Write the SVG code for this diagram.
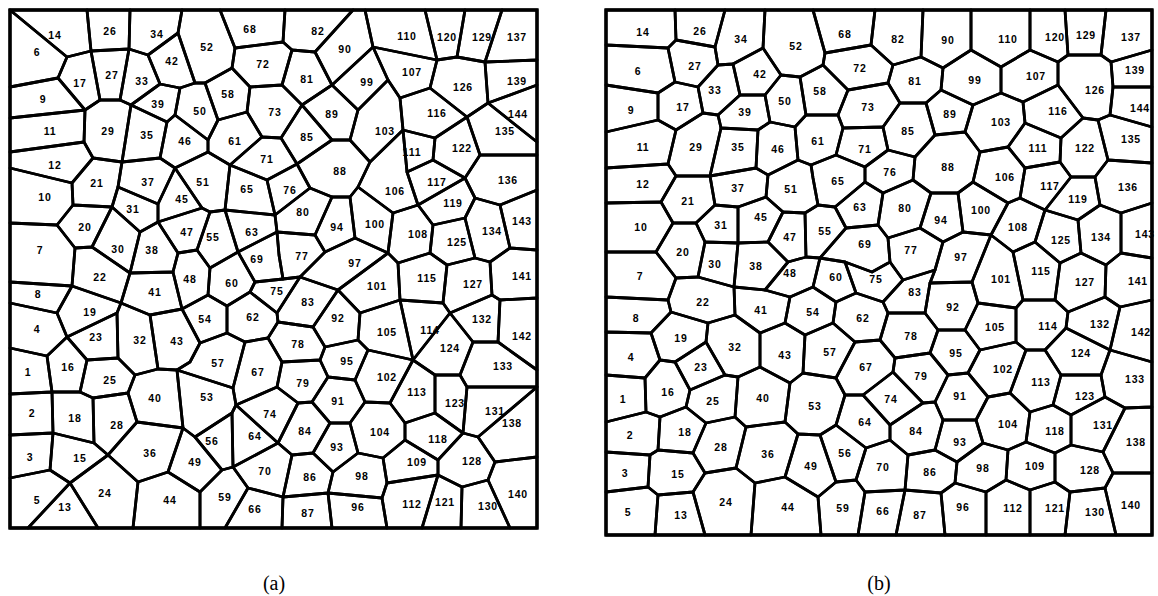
<svg xmlns="http://www.w3.org/2000/svg" width="1158" height="596" viewBox="0 0 1158 596">
<style>
.c polygon{fill:none;stroke:#000;stroke-width:2.8;stroke-linejoin:round}
.c text{font-family:"Liberation Sans",Arial,sans-serif;font-weight:bold;font-size:10.5px;letter-spacing:0.8px;text-anchor:middle;fill:#000}
.frame{fill:none;stroke:#000;stroke-width:3.4}
.cap{font-family:"Liberation Serif","Times New Roman",serif;font-size:20px;text-anchor:middle;fill:#000}
</style>
<rect width="1158" height="596" fill="#fff"/>
<g id="panel-a" class="c">
<g id="a1"><polygon points="10,348 47,356 52,392 10,394"/><text x="28" y="376">1</text></g>
<g id="a2"><polygon points="10,394 52,392 53,433 10,435"/><text x="32" y="417">2</text></g>
<g id="a3"><polygon points="10,435 53,433 50,470 10,478"/><text x="30" y="461">3</text></g>
<g id="a4"><polygon points="10,303 57,313 67,337 47,356 10,348"/><text x="37" y="333">4</text></g>
<g id="a5"><polygon points="10,478 50,470 70,483 28,528 10,528"/><text x="37" y="504">5</text></g>
<g id="a6"><polygon points="10,10 67,57 58,78 10,87"/><text x="37" y="56">6</text></g>
<g id="a7"><polygon points="10,223 57,225 75,248 72,286 10,282"/><text x="40" y="254">7</text></g>
<g id="a8"><polygon points="10,282 72,286 57,313 10,303"/><text x="38" y="298">8</text></g>
<g id="a9"><polygon points="10,87 58,78 85,110 10,118"/><text x="43" y="103">9</text></g>
<g id="a10"><polygon points="10,168 72,183 73,205 57,225 10,223"/><text x="45" y="201">10</text></g>
<g id="a11"><polygon points="10,118 85,110 84,142 10,152"/><text x="50" y="135">11</text></g>
<g id="a12"><polygon points="10,152 84,142 93,158 72,183 10,168"/><text x="55" y="169">12</text></g>
<g id="a13"><polygon points="70,483 98,528 28,528"/><text x="65" y="511">13</text></g>
<g id="a14"><polygon points="10,10 87,10 91,51 67,57"/><text x="55" y="39">14</text></g>
<g id="a15"><polygon points="53,433 94,443 108,455 70,483 50,470"/><text x="80" y="462">15</text></g>
<g id="a16"><polygon points="67,337 87,360 80,392 52,392 47,356"/><text x="68" y="371">16</text></g>
<g id="a17"><polygon points="67,57 91,51 100,100 85,110 58,78"/><text x="80" y="87">17</text></g>
<g id="a18"><polygon points="52,392 80,392 93,398 94,443 53,433"/><text x="75" y="422">18</text></g>
<g id="a19"><polygon points="72,286 121,303 117,313 67,337 57,313"/><text x="90" y="316">19</text></g>
<g id="a20"><polygon points="73,205 112,207 92,247 75,248 57,225"/><text x="85" y="231">20</text></g>
<g id="a21"><polygon points="93,158 122,162 118,187 112,207 73,205 72,183"/><text x="97" y="187">21</text></g>
<g id="a22"><polygon points="75,248 92,247 130,273 121,303 72,286"/><text x="100" y="281">22</text></g>
<g id="a23"><polygon points="117,313 118,358 87,360 67,337"/><text x="96" y="341">23</text></g>
<g id="a24"><polygon points="70,483 108,455 138,482 133,528 98,528"/><text x="105" y="497">24</text></g>
<g id="a25"><polygon points="87,360 118,358 135,375 128,393 93,398 80,392"/><text x="110" y="384">25</text></g>
<g id="a26"><polygon points="87,10 130,10 129,49 91,51"/><text x="110" y="35">26</text></g>
<g id="a27"><polygon points="91,51 129,49 120,100 100,100"/><text x="112" y="79">27</text></g>
<g id="a28"><polygon points="93,398 128,393 137,422 108,455 94,443"/><text x="117" y="429">28</text></g>
<g id="a29"><polygon points="100,100 120,100 131,105 122,162 93,158 84,142 85,110"/><text x="108" y="135">29</text></g>
<g id="a30"><polygon points="112,207 140,232 130,273 92,247"/><text x="118" y="253">30</text></g>
<g id="a31"><polygon points="118,187 158,204 158,222 140,232 112,207"/><text x="133" y="213">31</text></g>
<g id="a32"><polygon points="121,303 150,315 158,369 135,375 118,358 117,313"/><text x="140" y="344">32</text></g>
<g id="a33"><polygon points="129,49 148,55 160,84 131,105 120,100"/><text x="142" y="85">33</text></g>
<g id="a34"><polygon points="130,10 182,10 178,33 148,55 129,49"/><text x="157" y="38">34</text></g>
<g id="a35"><polygon points="131,105 167,122 160,158 122,162"/><text x="147" y="139">35</text></g>
<g id="a36"><polygon points="108,455 137,422 183,428 168,472 138,482"/><text x="150" y="457">36</text></g>
<g id="a37"><polygon points="122,162 160,158 175,168 158,204 118,187"/><text x="148" y="186">37</text></g>
<g id="a38"><polygon points="140,232 158,222 178,253 173,272 130,273"/><text x="152" y="254">38</text></g>
<g id="a39"><polygon points="160,84 180,88 175,115 167,122 131,105"/><text x="158" y="108">39</text></g>
<g id="a40"><polygon points="135,375 158,369 177,370 183,428 137,422 128,393"/><text x="155" y="402">40</text></g>
<g id="a41"><polygon points="130,273 173,272 182,309 150,315 121,303"/><text x="155" y="296">41</text></g>
<g id="a42"><polygon points="148,55 178,33 195,83 180,88 160,84"/><text x="172" y="65">42</text></g>
<g id="a43"><polygon points="150,315 182,309 200,343 190,362 177,370 158,369"/><text x="177" y="345">43</text></g>
<g id="a44"><polygon points="138,482 168,472 200,492 200,528 133,528"/><text x="170" y="504">44</text></g>
<g id="a45"><polygon points="175,168 202,208 158,222 158,204"/><text x="182" y="203">45</text></g>
<g id="a46"><polygon points="175,115 208,140 208,152 175,168 160,158 167,122"/><text x="185" y="145">46</text></g>
<g id="a47"><polygon points="158,222 202,208 210,212 197,250 178,253"/><text x="187" y="236">47</text></g>
<g id="a48"><polygon points="173,272 178,253 197,250 210,268 208,295 182,309"/><text x="190" y="283">48</text></g>
<g id="a49"><polygon points="168,472 183,428 195,437 222,470 200,492"/><text x="195" y="466">49</text></g>
<g id="a50"><polygon points="195,83 205,83 218,120 208,140 175,115 180,88"/><text x="200" y="115">50</text></g>
<g id="a51"><polygon points="175,168 208,152 230,165 225,210 210,212 202,208"/><text x="203" y="186">51</text></g>
<g id="a52"><polygon points="182,10 220,10 235,48 232,68 205,83 195,83 178,33"/><text x="207" y="51">52</text></g>
<g id="a53"><polygon points="177,370 233,388 236,405 232,413 195,437 183,428"/><text x="207" y="401">53</text></g>
<g id="a54"><polygon points="182,309 208,295 227,306 227,333 200,343"/><text x="205" y="323">54</text></g>
<g id="a55"><polygon points="210,212 225,210 238,252 210,268 197,250"/><text x="213" y="241">55</text></g>
<g id="a56"><polygon points="195,437 232,413 233,467 222,470"/><text x="212" y="445">56</text></g>
<g id="a57"><polygon points="200,343 227,333 245,342 233,388 177,370 190,362"/><text x="218" y="367">57</text></g>
<g id="a58"><polygon points="205,83 232,68 250,87 247,112 218,120"/><text x="228" y="98">58</text></g>
<g id="a59"><polygon points="200,492 222,470 233,467 248,488 225,528 200,528"/><text x="225" y="501">59</text></g>
<g id="a60"><polygon points="210,268 238,252 255,282 250,292 227,306 208,295"/><text x="232" y="287">60</text></g>
<g id="a61"><polygon points="218,120 247,112 262,137 230,165 208,152 208,140"/><text x="235" y="145">61</text></g>
<g id="a62"><polygon points="227,306 250,292 277,313 278,322 268,338 245,342 227,333"/><text x="253" y="321">62</text></g>
<g id="a63"><polygon points="225,210 275,215 277,232 238,252"/><text x="252" y="236">63</text></g>
<g id="a64"><polygon points="236,405 278,443 233,467 232,413"/><text x="255" y="440">64</text></g>
<g id="a65"><polygon points="230,165 267,180 275,215 225,210"/><text x="247" y="193">65</text></g>
<g id="a66"><polygon points="248,488 283,497 282,528 225,528"/><text x="255" y="513">66</text></g>
<g id="a67"><polygon points="245,342 268,338 282,362 277,387 236,405 233,388"/><text x="258" y="376">67</text></g>
<g id="a68"><polygon points="220,10 285,10 283,42 235,48"/><text x="250" y="33">68</text></g>
<g id="a69"><polygon points="238,252 277,232 279,255 283,279 255,282"/><text x="257" y="263">69</text></g>
<g id="a70"><polygon points="278,443 292,455 283,497 248,488 233,467"/><text x="265" y="475">70</text></g>
<g id="a71"><polygon points="262,137 281,138 297,164 267,180 230,165"/><text x="267" y="163">71</text></g>
<g id="a72"><polygon points="235,48 283,42 292,50 282,85 250,87 232,68"/><text x="263" y="68">72</text></g>
<g id="a73"><polygon points="250,87 282,85 302,105 281,138 262,137 247,112"/><text x="275" y="116">73</text></g>
<g id="a74"><polygon points="236,405 277,387 298,403 278,443"/><text x="270" y="418">74</text></g>
<g id="a75"><polygon points="255,282 283,279 300,277 277,313 250,292"/><text x="277" y="295">75</text></g>
<g id="a76"><polygon points="297,164 310,188 275,215 267,180"/><text x="290" y="194">76</text></g>
<g id="a77"><polygon points="277,232 315,235 325,252 300,277 283,279 279,255"/><text x="302" y="260">77</text></g>
<g id="a78"><polygon points="278,322 313,327 325,347 320,360 282,362 268,338"/><text x="298" y="348">78</text></g>
<g id="a79"><polygon points="282,362 320,360 328,377 312,402 298,403 277,387"/><text x="303" y="387">79</text></g>
<g id="a80"><polygon points="310,188 332,197 315,235 277,232 275,215"/><text x="303" y="216">80</text></g>
<g id="a81"><polygon points="292,50 315,52 332,85 302,105 282,85"/><text x="307" y="83">81</text></g>
<g id="a82"><polygon points="285,10 353,10 315,52 292,50 283,42"/><text x="318" y="35">82</text></g>
<g id="a83"><polygon points="300,277 338,290 313,327 278,322 277,313"/><text x="308" y="306">83</text></g>
<g id="a84"><polygon points="298,403 312,402 330,423 313,453 292,455 278,443"/><text x="305" y="435">84</text></g>
<g id="a85"><polygon points="302,105 332,140 297,164 281,138"/><text x="307" y="141">85</text></g>
<g id="a86"><polygon points="292,455 313,453 333,472 328,493 283,497"/><text x="310" y="481">86</text></g>
<g id="a87"><polygon points="283,497 328,493 332,528 282,528"/><text x="308" y="517">87</text></g>
<g id="a88"><polygon points="332,140 350,140 370,162 358,187 350,197 332,197 310,188 297,164"/><text x="340" y="175">88</text></g>
<g id="a89"><polygon points="332,85 358,110 350,140 332,140 302,105"/><text x="332" y="118">89</text></g>
<g id="a90"><polygon points="353,10 365,10 373,47 332,85 315,52"/><text x="345" y="53">90</text></g>
<g id="a91"><polygon points="328,377 355,380 365,402 350,423 330,423 312,402"/><text x="338" y="405">91</text></g>
<g id="a92"><polygon points="338,290 360,313 358,340 325,347 313,327"/><text x="338" y="322">92</text></g>
<g id="a93"><polygon points="330,423 350,423 358,453 333,472 313,453"/><text x="337" y="451">93</text></g>
<g id="a94"><polygon points="332,197 350,197 355,238 325,252 315,235"/><text x="337" y="231">94</text></g>
<g id="a95"><polygon points="325,347 358,340 368,350 355,380 328,377 320,360"/><text x="347" y="365">95</text></g>
<g id="a96"><polygon points="328,493 382,498 387,528 332,528"/><text x="358" y="511">96</text></g>
<g id="a97"><polygon points="325,252 355,238 388,253 338,290 300,277"/><text x="355" y="267">97</text></g>
<g id="a98"><polygon points="333,472 358,453 383,458 387,483 382,498 328,493"/><text x="362" y="480">98</text></g>
<g id="a99"><polygon points="332,85 373,47 388,80 358,110"/><text x="367" y="86">99</text></g>
<g id="a100"><polygon points="350,197 358,187 393,213 388,253 355,238"/><text x="375" y="228">100</text></g>
<g id="a101"><polygon points="338,290 388,253 398,263 400,300 360,313"/><text x="377" y="290">101</text></g>
<g id="a102"><polygon points="368,350 413,360 390,403 365,402 355,380"/><text x="387" y="381">102</text></g>
<g id="a103"><polygon points="358,110 388,80 400,98 403,130 370,162 350,140"/><text x="385" y="135">103</text></g>
<g id="a104"><polygon points="350,423 365,402 390,403 405,423 405,440 383,458 358,453"/><text x="380" y="436">104</text></g>
<g id="a105"><polygon points="360,313 400,300 413,360 368,350 358,340"/><text x="387" y="336">105</text></g>
<g id="a106"><polygon points="370,162 403,130 407,172 418,205 393,213 358,187"/><text x="395" y="195">106</text></g>
<g id="a107"><polygon points="373,47 437,60 430,88 400,98 388,80"/><text x="412" y="76">107</text></g>
<g id="a108"><polygon points="393,213 418,205 433,225 430,253 398,263 388,253"/><text x="418" y="238">108</text></g>
<g id="a109"><polygon points="383,458 405,440 438,460 438,475 387,483"/><text x="417" y="466">109</text></g>
<g id="a110"><polygon points="365,10 425,10 437,60 373,47"/><text x="407" y="40">110</text></g>
<g id="a111"><polygon points="403,130 435,138 433,160 407,172"/><text x="412" y="156">111</text></g>
<g id="a112"><polygon points="387,483 438,475 422,528 387,528 382,498"/><text x="412" y="508">112</text></g>
<g id="a113"><polygon points="413,360 435,375 435,413 405,423 390,403"/><text x="417" y="396">113</text></g>
<g id="a114"><polygon points="400,300 443,303 450,313 413,360"/><text x="430" y="334">114</text></g>
<g id="a115"><polygon points="398,263 430,253 447,265 443,303 400,300"/><text x="427" y="282">115</text></g>
<g id="a116"><polygon points="400,98 430,88 467,117 435,138 403,130"/><text x="437" y="117">116</text></g>
<g id="a117"><polygon points="407,172 433,160 465,178 418,205"/><text x="437" y="186">117</text></g>
<g id="a118"><polygon points="405,423 435,413 463,433 438,460 405,440"/><text x="438" y="443">118</text></g>
<g id="a119"><polygon points="418,205 465,178 475,198 465,218 433,225"/><text x="453" y="207">119</text></g>
<g id="a120"><polygon points="425,10 465,10 457,57 437,60"/><text x="447" y="41">120</text></g>
<g id="a121"><polygon points="438,475 462,487 461,528 422,528"/><text x="445" y="506">121</text></g>
<g id="a122"><polygon points="467,117 480,155 465,178 433,160 435,138"/><text x="462" y="152">122</text></g>
<g id="a123"><polygon points="435,375 460,375 467,387 463,433 435,413"/><text x="455" y="407">123</text></g>
<g id="a124"><polygon points="413,360 450,313 473,342 460,375 435,375"/><text x="450" y="352">124</text></g>
<g id="a125"><polygon points="433,225 465,218 475,258 447,265 430,253"/><text x="457" y="246">125</text></g>
<g id="a126"><polygon points="437,60 457,57 485,62 488,103 467,117 430,88"/><text x="463" y="91">126</text></g>
<g id="a127"><polygon points="447,265 475,258 490,262 492,295 450,313 443,303"/><text x="473" y="288">127</text></g>
<g id="a128"><polygon points="438,460 463,433 478,437 495,462 488,480 462,487 438,475"/><text x="472" y="465">128</text></g>
<g id="a129"><polygon points="465,10 502,10 485,62 457,57"/><text x="482" y="41">129</text></g>
<g id="a130"><polygon points="462,487 488,480 510,528 461,528"/><text x="488" y="510">130</text></g>
<g id="a131"><polygon points="467,387 537,387 478,437 463,433"/><text x="495" y="415">131</text></g>
<g id="a132"><polygon points="450,313 492,295 500,300 498,342 473,342"/><text x="482" y="323">132</text></g>
<g id="a133"><polygon points="473,342 498,342 537,370 537,387 467,387 460,375"/><text x="503" y="370">133</text></g>
<g id="a134"><polygon points="465,218 475,198 500,205 510,248 490,262 475,258"/><text x="492" y="235">134</text></g>
<g id="a135"><polygon points="467,117 488,103 537,142 537,155 480,155"/><text x="505" y="135">135</text></g>
<g id="a136"><polygon points="480,155 537,155 537,190 500,205 475,198 465,178"/><text x="508" y="184">136</text></g>
<g id="a137"><polygon points="502,10 537,10 537,60 485,62"/><text x="517" y="41">137</text></g>
<g id="a138"><polygon points="478,437 537,387 537,457 495,462"/><text x="512" y="427">138</text></g>
<g id="a139"><polygon points="485,62 537,60 537,85 488,103"/><text x="517" y="85">139</text></g>
<g id="a140"><polygon points="495,462 537,457 537,528 510,528 488,480"/><text x="518" y="498">140</text></g>
<g id="a141"><polygon points="490,262 510,248 537,250 537,298 500,300 492,295"/><text x="522" y="280">141</text></g>
<g id="a142"><polygon points="500,300 537,298 537,370 498,342"/><text x="522" y="340">142</text></g>
<g id="a143"><polygon points="500,205 537,190 537,250 510,248"/><text x="522" y="225">143</text></g>
<g id="a144"><polygon points="488,103 537,85 537,142"/><text x="518" y="118">144</text></g>
<rect class="frame" x="10" y="10" width="527" height="518"/>
</g>
<g id="panel-b" class="c">
<g id="b1"><polygon points="606,375 645,378 646,412 606,422"/><text x="623" y="403">1</text></g>
<g id="b2"><polygon points="606,422 646,412 660,417 658,450 650,455 606,452"/><text x="630" y="439">2</text></g>
<g id="b3"><polygon points="606,452 650,455 648,487 606,492"/><text x="625" y="477">3</text></g>
<g id="b4"><polygon points="606,332 651,333 660,360 645,378 606,375"/><text x="631" y="361">4</text></g>
<g id="b5"><polygon points="606,492 648,487 658,495 655,535 606,535"/><text x="628" y="516">5</text></g>
<g id="b6"><polygon points="606,45 668,48 675,82 658,93 606,85"/><text x="638" y="75">6</text></g>
<g id="b7"><polygon points="606,252 656,252 676,278 668,300 606,297"/><text x="640" y="280">7</text></g>
<g id="b8"><polygon points="606,297 668,300 671,312 651,333 606,332"/><text x="636" y="322">8</text></g>
<g id="b9"><polygon points="606,85 658,93 658,120 606,132"/><text x="631" y="114">9</text></g>
<g id="b10"><polygon points="606,203 661,202 673,223 656,252 606,252"/><text x="641" y="231">10</text></g>
<g id="b11"><polygon points="606,132 658,120 676,130 668,164 606,168"/><text x="643" y="151">11</text></g>
<g id="b12"><polygon points="606,168 668,164 676,176 661,202 606,203"/><text x="643" y="188">12</text></g>
<g id="b13"><polygon points="658,495 693,492 705,535 655,535"/><text x="681" y="519">13</text></g>
<g id="b14"><polygon points="606,10 675,10 676,40 668,48 606,45"/><text x="643" y="36">14</text></g>
<g id="b15"><polygon points="650,455 658,450 693,453 705,473 693,492 658,495 648,487"/><text x="678" y="478">15</text></g>
<g id="b16"><polygon points="660,360 675,362 690,390 686,407 660,417 646,412 645,378"/><text x="668" y="396">16</text></g>
<g id="b17"><polygon points="658,93 675,82 698,87 703,113 676,130 658,120"/><text x="683" y="111">17</text></g>
<g id="b18"><polygon points="660,417 686,407 706,423 693,453 658,450"/><text x="685" y="436">18</text></g>
<g id="b19"><polygon points="671,312 708,323 706,342 675,362 660,360 651,333"/><text x="681" y="342">19</text></g>
<g id="b20"><polygon points="673,223 696,223 705,242 698,277 676,278 656,252"/><text x="683" y="256">20</text></g>
<g id="b21"><polygon points="676,176 710,176 715,205 696,223 673,223 661,202"/><text x="688" y="205">21</text></g>
<g id="b22"><polygon points="676,278 698,277 734,287 735,315 708,323 671,312 668,300"/><text x="703" y="306">22</text></g>
<g id="b23"><polygon points="706,342 725,375 690,390 675,362"/><text x="701" y="371">23</text></g>
<g id="b24"><polygon points="693,492 705,473 736,468 755,483 751,535 705,535"/><text x="726" y="506">24</text></g>
<g id="b25"><polygon points="690,390 725,375 738,377 735,417 706,423 686,407"/><text x="713" y="405">25</text></g>
<g id="b26"><polygon points="675,10 725,10 715,47 676,40"/><text x="700" y="35">26</text></g>
<g id="b27"><polygon points="676,40 715,47 718,65 698,87 675,82 668,48"/><text x="695" y="70">27</text></g>
<g id="b28"><polygon points="706,423 735,417 746,427 736,468 705,473 693,453"/><text x="721" y="451">28</text></g>
<g id="b29"><polygon points="676,130 703,113 718,115 721,128 710,176 676,176 668,164"/><text x="696" y="151">29</text></g>
<g id="b30"><polygon points="705,242 738,243 734,287 698,277"/><text x="715" y="268">30</text></g>
<g id="b31"><polygon points="715,205 738,207 738,243 705,242 696,223"/><text x="721" y="229">31</text></g>
<g id="b32"><polygon points="708,323 735,315 760,333 760,367 738,377 725,375 706,342"/><text x="735" y="351">32</text></g>
<g id="b33"><polygon points="718,65 733,64 740,95 718,115 703,113 698,87"/><text x="715" y="94">33</text></g>
<g id="b34"><polygon points="725,10 765,10 763,48 733,64 718,65 715,47"/><text x="741" y="43">34</text></g>
<g id="b35"><polygon points="721,128 758,130 756,168 710,176"/><text x="738" y="151">35</text></g>
<g id="b36"><polygon points="746,427 785,422 798,434 785,477 755,483 736,468"/><text x="768" y="458">36</text></g>
<g id="b37"><polygon points="710,176 756,168 768,175 766,197 738,207 715,205"/><text x="738" y="192">37</text></g>
<g id="b38"><polygon points="738,243 768,242 788,262 765,290 734,287"/><text x="756" y="270">38</text></g>
<g id="b39"><polygon points="740,95 765,95 770,122 758,130 721,128 718,115"/><text x="745" y="116">39</text></g>
<g id="b40"><polygon points="738,377 760,367 790,383 785,422 746,427 735,417"/><text x="763" y="402">40</text></g>
<g id="b41"><polygon points="734,287 765,290 790,297 785,323 760,333 735,315"/><text x="761" y="314">41</text></g>
<g id="b42"><polygon points="733,64 763,48 781,75 765,95 740,95"/><text x="760" y="78">42</text></g>
<g id="b43"><polygon points="760,333 785,323 805,335 803,373 790,383 760,367"/><text x="785" y="359">43</text></g>
<g id="b44"><polygon points="755,483 785,477 818,497 821,535 751,535"/><text x="788" y="511">44</text></g>
<g id="b45"><polygon points="738,207 766,197 783,212 768,242 738,243"/><text x="761" y="221">45</text></g>
<g id="b46"><polygon points="770,122 795,127 798,160 768,175 756,168 758,130"/><text x="778" y="153">46</text></g>
<g id="b47"><polygon points="783,212 805,213 806,257 788,262 768,242"/><text x="790" y="241">47</text></g>
<g id="b48"><polygon points="788,262 806,257 820,258 813,287 790,297 765,290"/><text x="790" y="277">48</text></g>
<g id="b49"><polygon points="785,477 798,434 820,435 836,482 818,497"/><text x="811" y="470">49</text></g>
<g id="b50"><polygon points="781,75 800,77 806,115 795,127 770,122 765,95"/><text x="785" y="105">50</text></g>
<g id="b51"><polygon points="768,175 798,160 811,165 813,178 818,205 805,213 783,212 766,197"/><text x="791" y="193">51</text></g>
<g id="b52"><polygon points="765,10 813,10 825,53 823,65 800,77 781,75 763,48"/><text x="796" y="50">52</text></g>
<g id="b53"><polygon points="790,383 803,373 836,378 845,395 836,425 820,435 798,434 785,422"/><text x="815" y="410">53</text></g>
<g id="b54"><polygon points="790,297 813,287 836,302 833,323 805,335 785,323"/><text x="813" y="316">54</text></g>
<g id="b55"><polygon points="805,213 818,205 835,207 846,228 820,258 806,257"/><text x="825" y="235">55</text></g>
<g id="b56"><polygon points="820,435 836,425 866,448 856,480 836,482"/><text x="845" y="457">56</text></g>
<g id="b57"><polygon points="805,335 833,323 855,342 836,378 803,373"/><text x="830" y="356">57</text></g>
<g id="b58"><polygon points="800,77 823,65 848,90 838,115 806,115"/><text x="820" y="95">58</text></g>
<g id="b59"><polygon points="836,482 856,480 865,492 858,535 821,535 818,497"/><text x="843" y="512">59</text></g>
<g id="b60"><polygon points="820,258 845,262 856,293 836,302 813,287"/><text x="836" y="281">60</text></g>
<g id="b61"><polygon points="806,115 838,115 843,128 836,155 811,165 798,160 795,127"/><text x="818" y="145">61</text></g>
<g id="b62"><polygon points="836,302 856,293 883,302 888,313 880,340 855,342 833,323"/><text x="863" y="322">62</text></g>
<g id="b63"><polygon points="865,182 883,193 878,225 846,228 835,207"/><text x="860" y="211">63</text></g>
<g id="b64"><polygon points="845,395 863,395 890,425 890,440 866,448 836,425"/><text x="865" y="426">64</text></g>
<g id="b65"><polygon points="811,165 836,155 865,167 865,182 835,207 818,205 813,178"/><text x="838" y="185">65</text></g>
<g id="b66"><polygon points="865,492 905,490 896,535 858,535"/><text x="883" y="515">66</text></g>
<g id="b67"><polygon points="855,342 880,340 895,358 893,372 863,395 845,395 836,378"/><text x="866" y="371">67</text></g>
<g id="b68"><polygon points="813,10 875,10 871,45 825,53"/><text x="845" y="38">68</text></g>
<g id="b69"><polygon points="846,228 878,225 888,238 890,262 872,272 845,262 820,258"/><text x="865" y="248">69</text></g>
<g id="b70"><polygon points="866,448 890,440 908,455 905,490 865,492 856,480"/><text x="883" y="471">70</text></g>
<g id="b71"><polygon points="843,128 883,127 888,150 865,167 836,155"/><text x="865" y="153">71</text></g>
<g id="b72"><polygon points="825,53 871,45 893,65 888,83 848,90 823,65"/><text x="860" y="72">72</text></g>
<g id="b73"><polygon points="848,90 888,83 900,103 883,127 843,128 838,115"/><text x="868" y="111">73</text></g>
<g id="b74"><polygon points="893,372 923,403 890,425 863,395"/><text x="891" y="403">74</text></g>
<g id="b75"><polygon points="845,262 872,272 890,262 903,280 883,302 856,293"/><text x="876" y="283">75</text></g>
<g id="b76"><polygon points="888,150 915,157 913,180 883,193 865,182 865,167"/><text x="890" y="176">76</text></g>
<g id="b77"><polygon points="888,238 920,228 943,242 935,270 903,280 890,262"/><text x="911" y="254">77</text></g>
<g id="b78"><polygon points="888,313 925,313 938,330 930,353 895,358 880,340"/><text x="911" y="340">78</text></g>
<g id="b79"><polygon points="895,358 930,353 948,375 935,402 923,403 893,372"/><text x="921" y="380">79</text></g>
<g id="b80"><polygon points="913,180 931,193 920,228 888,238 878,225 883,193"/><text x="905" y="212">80</text></g>
<g id="b81"><polygon points="893,65 921,57 943,68 941,90 926,103 900,103 888,83"/><text x="915" y="85">81</text></g>
<g id="b82"><polygon points="875,10 923,10 921,57 893,65 871,45"/><text x="898" y="43">82</text></g>
<g id="b83"><polygon points="883,302 903,280 935,270 930,283 925,313 888,313"/><text x="915" y="296">83</text></g>
<g id="b84"><polygon points="923,403 935,402 943,420 935,450 908,455 890,440 890,425"/><text x="916" y="435">84</text></g>
<g id="b85"><polygon points="900,103 926,103 935,135 915,157 888,150 883,127"/><text x="908" y="135">85</text></g>
<g id="b86"><polygon points="908,455 935,450 957,462 955,483 941,493 905,490"/><text x="930" y="476">86</text></g>
<g id="b87"><polygon points="905,490 941,493 945,535 896,535"/><text x="920" y="519">87</text></g>
<g id="b88"><polygon points="935,135 965,132 980,152 973,182 958,193 931,193 913,180 915,157"/><text x="948" y="171">88</text></g>
<g id="b89"><polygon points="926,103 941,90 973,105 965,132 935,135"/><text x="950" y="118">89</text></g>
<g id="b90"><polygon points="923,10 971,10 971,50 943,68 921,57"/><text x="948" y="44">90</text></g>
<g id="b91"><polygon points="948,375 968,373 988,397 976,420 943,420 935,402"/><text x="960" y="400">91</text></g>
<g id="b92"><polygon points="930,283 972,282 978,303 965,330 938,330 925,313"/><text x="953" y="311">92</text></g>
<g id="b93"><polygon points="943,420 976,420 983,443 957,462 935,450"/><text x="960" y="446">93</text></g>
<g id="b94"><polygon points="931,193 958,193 963,232 943,242 920,228"/><text x="941" y="224">94</text></g>
<g id="b95"><polygon points="938,330 965,330 980,350 968,373 948,375 930,353"/><text x="956" y="357">95</text></g>
<g id="b96"><polygon points="941,493 955,483 986,492 986,535 945,535"/><text x="963" y="511">96</text></g>
<g id="b97"><polygon points="943,242 963,232 991,235 972,282 930,283 935,270"/><text x="961" y="261">97</text></g>
<g id="b98"><polygon points="957,462 983,443 1008,450 1006,480 986,492 955,483"/><text x="983" y="472">98</text></g>
<g id="b99"><polygon points="943,68 971,50 1001,67 1001,93 973,105 941,90"/><text x="975" y="84">99</text></g>
<g id="b100"><polygon points="958,193 973,182 1008,203 991,235 963,232"/><text x="981" y="214">100</text></g>
<g id="b101"><polygon points="991,235 1013,252 1023,300 1016,308 978,303 972,282"/><text x="1001" y="283">101</text></g>
<g id="b102"><polygon points="980,350 1016,342 1026,350 1010,393 988,397 968,373"/><text x="1003" y="373">102</text></g>
<g id="b103"><polygon points="973,105 1001,93 1023,102 1025,123 1008,147 980,152 965,132"/><text x="1001" y="126">103</text></g>
<g id="b104"><polygon points="988,397 1010,393 1030,412 1026,442 1008,450 983,443 976,420"/><text x="1008" y="428">104</text></g>
<g id="b105"><polygon points="978,303 1016,308 1016,342 980,350 965,330"/><text x="995" y="331">105</text></g>
<g id="b106"><polygon points="980,152 1008,147 1025,168 1020,198 1008,203 973,182"/><text x="1005" y="181">106</text></g>
<g id="b107"><polygon points="1001,67 1030,50 1058,62 1058,85 1023,102 1001,93"/><text x="1036" y="80">107</text></g>
<g id="b108"><polygon points="1008,203 1020,198 1045,210 1035,242 1013,252 991,235"/><text x="1018" y="231">108</text></g>
<g id="b109"><polygon points="1008,450 1026,442 1055,453 1055,482 1030,490 1006,480"/><text x="1035" y="470">109</text></g>
<g id="b110"><polygon points="971,10 1030,10 1030,50 1001,67 971,50"/><text x="1008" y="43">110</text></g>
<g id="b111"><polygon points="1025,123 1061,138 1060,162 1025,168 1008,147"/><text x="1038" y="152">111</text></g>
<g id="b112"><polygon points="986,492 1006,480 1030,490 1030,535 986,535"/><text x="1013" y="512">112</text></g>
<g id="b113"><polygon points="1026,350 1045,350 1061,375 1053,405 1030,412 1010,393"/><text x="1041" y="386">113</text></g>
<g id="b114"><polygon points="1016,308 1023,300 1055,300 1068,312 1066,328 1045,350 1026,350 1016,342"/><text x="1048" y="330">114</text></g>
<g id="b115"><polygon points="1013,252 1035,242 1060,263 1055,300 1023,300"/><text x="1041" y="275">115</text></g>
<g id="b116"><polygon points="1023,102 1058,85 1083,118 1061,138 1025,123"/><text x="1058" y="115">116</text></g>
<g id="b117"><polygon points="1025,168 1060,162 1071,177 1045,210 1020,198"/><text x="1050" y="190">117</text></g>
<g id="b118"><polygon points="1030,412 1053,405 1071,415 1071,445 1055,453 1026,442"/><text x="1055" y="435">118</text></g>
<g id="b119"><polygon points="1071,177 1095,177 1100,205 1078,220 1045,210"/><text x="1078" y="203">119</text></g>
<g id="b120"><polygon points="1030,10 1065,10 1068,55 1058,62 1030,50"/><text x="1055" y="41">120</text></g>
<g id="b121"><polygon points="1030,490 1055,482 1070,492 1065,535 1030,535"/><text x="1055" y="512">121</text></g>
<g id="b122"><polygon points="1083,118 1098,120 1108,160 1095,177 1071,177 1060,162 1061,138"/><text x="1085" y="152">122</text></g>
<g id="b123"><polygon points="1061,375 1101,375 1105,397 1071,415 1053,405"/><text x="1085" y="400">123</text></g>
<g id="b124"><polygon points="1045,350 1066,328 1110,350 1101,375 1061,375"/><text x="1081" y="357">124</text></g>
<g id="b125"><polygon points="1045,210 1078,220 1081,253 1060,263 1035,242"/><text x="1061" y="244">125</text></g>
<g id="b126"><polygon points="1058,62 1068,55 1101,55 1111,62 1113,87 1110,115 1098,120 1083,118 1058,85"/><text x="1095" y="94">126</text></g>
<g id="b127"><polygon points="1060,263 1081,253 1106,265 1105,297 1068,312 1055,300"/><text x="1085" y="286">127</text></g>
<g id="b128"><polygon points="1055,453 1071,445 1103,452 1113,473 1105,488 1070,492 1055,482"/><text x="1090" y="474">128</text></g>
<g id="b129"><polygon points="1065,10 1106,10 1101,55 1068,55"/><text x="1086" y="39">129</text></g>
<g id="b130"><polygon points="1070,492 1105,488 1116,535 1065,535"/><text x="1095" y="516">130</text></g>
<g id="b131"><polygon points="1071,415 1105,397 1125,408 1103,452 1071,445"/><text x="1103" y="429">131</text></g>
<g id="b132"><polygon points="1068,312 1105,297 1120,307 1110,350 1066,328"/><text x="1100" y="328">132</text></g>
<g id="b133"><polygon points="1101,375 1110,350 1152,362 1152,407 1125,408 1105,397"/><text x="1135" y="383">133</text></g>
<g id="b134"><polygon points="1078,220 1100,205 1121,213 1121,253 1106,265 1081,253"/><text x="1101" y="241">134</text></g>
<g id="b135"><polygon points="1098,120 1110,115 1152,127 1152,163 1108,160"/><text x="1131" y="143">135</text></g>
<g id="b136"><polygon points="1095,177 1108,160 1152,163 1152,203 1121,213 1100,205"/><text x="1128" y="191">136</text></g>
<g id="b137"><polygon points="1106,10 1152,10 1152,50 1111,62 1101,55"/><text x="1131" y="41">137</text></g>
<g id="b138"><polygon points="1103,452 1125,408 1152,407 1152,473 1113,473"/><text x="1136" y="446">138</text></g>
<g id="b139"><polygon points="1111,62 1152,50 1152,87 1113,87"/><text x="1135" y="74">139</text></g>
<g id="b140"><polygon points="1105,488 1113,473 1152,473 1152,535 1116,535"/><text x="1131" y="509">140</text></g>
<g id="b141"><polygon points="1106,265 1121,253 1152,258 1152,300 1120,307 1105,297"/><text x="1138" y="285">141</text></g>
<g id="b142"><polygon points="1120,307 1152,300 1152,362 1110,350"/><text x="1141" y="336">142</text></g>
<g id="b143"><polygon points="1121,213 1152,203 1152,258 1121,253"/><text x="1145" y="238">143</text></g>
<g id="b144"><polygon points="1113,87 1152,87 1152,127 1110,115"/><text x="1140" y="112">144</text></g>
<rect class="frame" x="606" y="10" width="546" height="525"/>
</g>
<g id="captions">
<text class="cap" x="274" y="590">(a)</text>
<text class="cap" x="879" y="590">(b)</text>
</g>
</svg>
